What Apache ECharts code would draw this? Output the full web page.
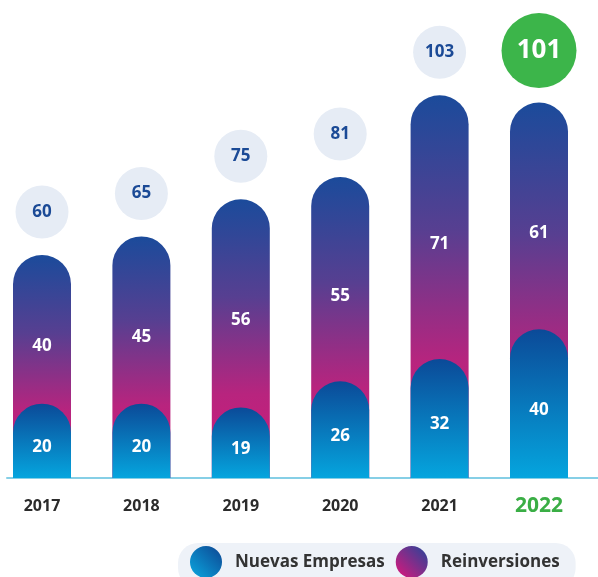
<!DOCTYPE html>
<html>
<head>
<meta charset="utf-8">
<script src="https://cdn.jsdelivr.net/npm/echarts@6/dist/echarts.min.js"></script>
<style>html,body{margin:0;padding:0;background:#fff}#c{width:598px;height:577px}</style>
</head>
<body>
<div id="c"></div>
<script>
var years = ['2017', '2018', '2019', '2020', '2021', '2022'];
var nuevasEmpresas = [20, 20, 19, 26, 32, 40];
var reinversiones = [40, 45, 56, 55, 71, 61];
var highlightYear = '2022';

var totals = nuevasEmpresas.map(function (v, i) { return v + reinversiones[i]; });

var FONT = '"Open Sans", "DejaVu Sans", sans-serif';
var G = echarts.graphic.LinearGradient;
var purpleGrad = new G(0, 0, 0, 1, [
  { offset: 0, color: '#1b4b9b' },
  { offset: 0.35, color: '#573f91' },
  { offset: 0.7, color: '#b8247e' },
  { offset: 1, color: '#d01a78' }
]);
var blueGrad = new G(0, 0, 0, 1, [
  { offset: 0, color: '#0b4a98' },
  { offset: 1, color: '#05a5de' }
]);
var legBlue = new G(0, 1, 1, 0, [
  { offset: 0, color: '#0aa8e0' },
  { offset: 1, color: '#0d4592' }
]);
var legPurple = new G(0, 1, 1, 0, [
  { offset: 0, color: '#e0157a' },
  { offset: 1, color: '#23469a' }
]);

var circleData = totals.map(function (t, i) {
  var hi = years[i] === highlightYear;
  return {
    value: t,
    symbolSize: hi ? 75 : 53,
    symbolOffset: [0, hi ? -52 : -43],
    itemStyle: { color: hi ? '#3cb54a' : '#e6ecf5', opacity: 1 },
    label: {
      color: hi ? '#ffffff' : '#1b4a96',
      fontSize: hi ? 26 : 17
    }
  };
});

var chart = echarts.init(document.getElementById('c'), null, { renderer: 'canvas' });
chart.setOption({
  animation: false,
  grid: [
    { left: 42, right: 59, top: 32, bottom: 99, containLabel: false },
    { left: 7, right: 0, top: 32, bottom: 99, containLabel: false }
  ],
  legend: {
    left: 178, top: 543,
    backgroundColor: '#eef2f8',
    borderRadius: 20,
    padding: [3, 16, 10, 12],
    itemWidth: 32, itemHeight: 32, itemGap: 11,
    icon: 'circle',
    textStyle: { fontFamily: FONT, fontSize: 17, fontWeight: 'bold', color: '#333333', padding: [0, 0, 0, 8] },
    data: [
      { name: 'Nuevas Empresas', itemStyle: { color: legBlue } },
      { name: 'Reinversiones', itemStyle: { color: legPurple } }
    ]
  },
  xAxis: [
    {
      type: 'category',
      gridIndex: 0,
      data: years,
      boundaryGap: false,
      axisLine: { show: false },
      axisTick: { show: false },
      splitLine: { show: false },
      axisLabel: {
        margin: 19,
        fontFamily: FONT,
        formatter: function (v) { return v === highlightYear ? '{g|' + v + '}' : '{n|' + v + '}'; },
        rich: {
          n: { fontFamily: FONT, fontSize: 16, fontWeight: 'bold', color: '#2b2b2b', height: 18, lineHeight: 18 },
          g: { fontFamily: FONT, fontSize: 21, fontWeight: 'bold', color: '#3aae45', height: 18, lineHeight: 18 }
        }
      }
    },
    {
      type: 'value',
      gridIndex: 1,
      min: 0, max: 1,
      axisLine: { show: true, lineStyle: { color: '#86cfe6', width: 2 } },
      axisTick: { show: false },
      axisLabel: { show: false },
      splitLine: { show: false }
    }
  ],
  yAxis: [
    { type: 'value', gridIndex: 0, min: 0, max: 120, show: false, splitLine: { show: false } },
    { type: 'value', gridIndex: 1, min: 0, max: 1, show: false, splitLine: { show: false } }
  ],
  series: [
    {
      name: 'Reinversiones', type: 'bar', data: totals, barWidth: 58, barGap: '-100%', clip: false,
      itemStyle: { color: purpleGrad, borderRadius: [29, 29, 0, 0] }
    },
    {
      name: 'Nuevas Empresas', type: 'bar', stack: 'a', data: nuevasEmpresas, barWidth: 58, barGap: '-100%', clip: false,
      itemStyle: { color: blueGrad, borderRadius: [29, 29, 0, 0] },
      label: {
        show: true, position: 'inside', offset: [0, 6],
        fontFamily: FONT, fontSize: 17, fontWeight: 'bold', color: '#ffffff'
      }
    },
    {
      name: 'reinvLabels', type: 'bar', stack: 'a', data: reinversiones, barWidth: 58, barGap: '-100%', clip: false,
      silent: true,
      itemStyle: { color: 'rgba(0,0,0,0)' },
      label: {
        show: true, position: 'inside', offset: [0, 17],
        fontFamily: FONT, fontSize: 17, fontWeight: 'bold', color: '#ffffff'
      }
    },
    {
      name: 'totals', type: 'scatter', data: circleData, symbol: 'circle', clip: false,
      label: {
        show: true, position: 'inside', fontFamily: FONT, fontWeight: 'bold'
      },
      z: 5
    }
  ]
});
</script>
</body>
</html>
